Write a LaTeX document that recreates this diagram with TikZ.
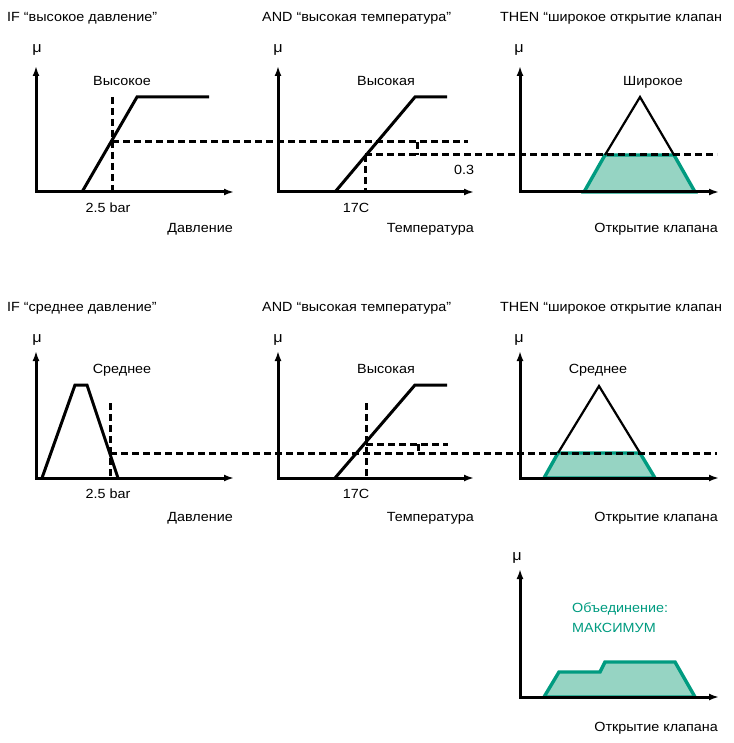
\documentclass[tikz,border=0pt]{standalone}
\usepackage{fontspec}
\setmainfont[FakeStretch=1.08]{Liberation Sans}
\usepackage{xcolor}
\usepackage{tikz}
\usetikzlibrary{arrows.meta,positioning}

\definecolor{tealline}{RGB}{0,155,128}
\definecolor{tealfill}{RGB}{150,212,195}

\begin{document}
\begin{tikzpicture}[
        x=1pt, y=-1pt,
        font=\fontsize{13.3pt}{15pt}\selectfont,
        axis/.style={line width=3pt, {Latex[length=10pt,width=7pt]}-{Latex[length=10pt,width=7pt]}},
        curve/.style={line width=3pt, line join=miter},
        cut/.style={line width=3pt, dash pattern=on 7pt off 4pt},
        outline/.style={line width=2.2pt, line join=miter},
        result/.style={line width=3.4pt, draw=tealline, fill=tealfill, line join=miter},
        lbl/.style={inner sep=0pt, anchor=base},
        mu/.style={inner sep=0pt, anchor=base, font=\fontsize{15pt}{15pt}\selectfont}
    ]
                \useasboundingbox (0,0) rectangle (733,743);

                % row 1
                \node[lbl, anchor=base west] (ifHigh) at (7,22) {IF “высокое давление”};
                \node[lbl, anchor=base west] (andHighA) at (262,22) {AND “высокая температура”};
                \node[lbl, anchor=base west] (thenWideA) at (500,22) {THEN “широкое открытие клапан};

                \fill[result] (584,192) -- (605,155) -- (674,155) -- (695,192) -- cycle;
                \draw[outline] (605,155) -- (640,97) -- (674,155);

                \draw[curve] (82,192) -- (137,97) -- (209,97);
                \draw[curve] (335,192) -- (415,97) -- (447,97);

                \draw[cut] (112,97) -- (112,192);
                \draw[cut] (112,142) -- (468,142);
                \draw[cut] (417,142) -- (417,155);
                \draw[cut] (365,155) -- (717,155);
                \draw[cut] (365,155) -- (365,192);

                \draw[axis] (36,66) |- (234,192);
                \draw[axis] (278,66) |- (474,192);
                \draw[axis] (520,66) |- (719,192);

                \node[mu] (muA) at (37,53) {μ};
                \node[mu] (muB) at (278,53) {μ};
                \node[mu] (muC) at (519,53) {μ};

                \node[lbl] (highP) at (122,86) {Высокое};
                \node[lbl] (barA) at (108,213) {2.5 bar};
                \node[lbl, anchor=base east] (pressA) at (233,232) {Давление};

                \node[lbl] (highT) at (386,86) {Высокая};
                \node[lbl] (tempA) at (356,213) {17C};
                \node[lbl] (level) at (464,175) {0.3};
                \node[lbl, anchor=base east] (tempNameA) at (474,232) {Температура};

                \node[lbl] (wideA) at (653,86) {Широкое};
                \node[lbl, anchor=base east] (valveA) at (718,232) {Открытие клапана};

                % row 2
                \node[lbl, anchor=base west] (ifMid) at (7,311) {IF “среднее давление”};
                \node[lbl, anchor=base west] (andHighB) at (262,311) {AND “высокая температура”};
                \node[lbl, anchor=base west] (thenWideB) at (500,311) {THEN “широкое открытие клапан};

                \fill[result] (544,478) -- (558,453) -- (640,453) -- (655,478) -- cycle;
                \draw[outline] (558,453) -- (599,386) -- (640,453);

                \draw[curve] (42,478) -- (75,385) -- (87,385) -- (118,478);
                \draw[curve] (335,478) -- (415,385) -- (447,385);

                \draw[cut] (110,403) -- (110,478);
                \draw[cut] (110,453) -- (717,453);
                \draw[cut] (366,444) -- (448,444);
                \draw[cut] (418,444) -- (418,453);
                \draw[cut] (366,403) -- (366,478);

                \draw[axis] (36,351) |- (234,478);
                \draw[axis] (278,351) |- (474,478);
                \draw[axis] (520,351) |- (719,478);

                \node[mu] (muD) at (37,342) {μ};
                \node[mu] (muE) at (278,342) {μ};
                \node[mu] (muF) at (519,342) {μ};

                \node[lbl] (midP) at (122,373) {Среднее};
                \node[lbl] (barB) at (108,498) {2.5 bar};
                \node[lbl, anchor=base east] (pressB) at (233,521) {Давление};

                \node[lbl] (highTB) at (386,373) {Высокая};
                \node[lbl] (tempB) at (356,498) {17C};
                \node[lbl, anchor=base east] (tempNameB) at (474,521) {Температура};

                \node[lbl] (midV) at (598,373) {Среднее};
                \node[lbl, anchor=base east] (valveB) at (718,521) {Открытие клапана};

                % union
                \fill[result] (544,697) -- (559,672) -- (600,672) -- (605,662) -- (675,662) -- (695,697) -- cycle;
                \draw[axis] (520,569) |- (719,697);

                \node[mu] (muG) at (517,560) {μ};
                \node[lbl, anchor=base west, text=tealline] (union) at (572,612) {Объединение:};
                \node[lbl, anchor=base west, text=tealline] (maxOp) at (572,632) {МАКСИМУМ};
                \node[lbl, anchor=base east] (valveC) at (718,731) {Открытие клапана};
\end{tikzpicture}
\end{document}
